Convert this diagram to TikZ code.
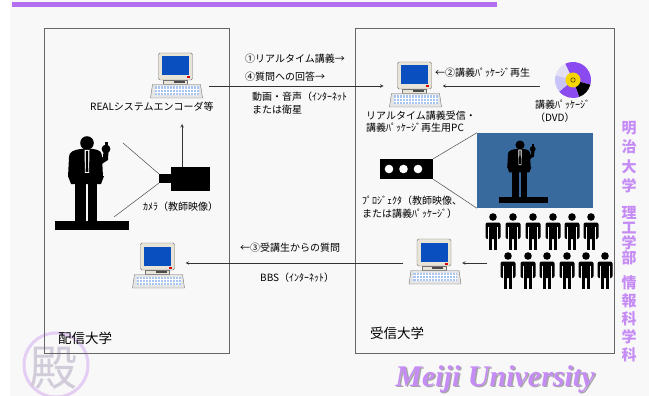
\documentclass[tikz,border=0pt]{standalone}
\usepackage{fontspec}
\setmainfont{Noto Sans CJK JP}
\newfontfamily\meijifont{Liberation Serif}

\definecolor{paper}{HTML}{F8F8F8}
\definecolor{violetbar}{HTML}{B46EF0}
\definecolor{lilac}{HTML}{C68CF5}
\definecolor{sealrim}{HTML}{E4CEF4}
\definecolor{sealgrey}{HTML}{D2CCDA}
\definecolor{casing}{HTML}{E9E4D8}
\definecolor{screenblue}{HTML}{0A4FC0}
\definecolor{keyblue}{HTML}{A8C4F0}
\definecolor{wallblue}{HTML}{386A9E}
\definecolor{discpurple}{HTML}{8A4AF0}
\definecolor{disclav}{HTML}{E4E0F4}
\definecolor{discperi}{HTML}{C8C4F8}
\definecolor{discgold}{HTML}{F6D400}

\tikzset{
    lbl/.style={font=\fontsize{10}{12.5}\selectfont, inner sep=0pt, anchor=west, align=left},
    site/.style={font=\fontsize{13.5}{16}\selectfont, inner sep=0pt, anchor=west},
    campus/.style={font=\fontsize{15}{15}\selectfont\bfseries, text=lilac, inner sep=0pt},
    link/.style={draw=black!80, line width=.6pt},
    ray/.style={draw=black!70, line width=.5pt},
    frame/.style={draw=black!60, line width=.8pt},
    solid box/.style={fill=black, inner sep=0pt},
    pc/.pic={
        \filldraw[draw=black!55, fill=casing, rounded corners=1.5pt] (-17,0) rectangle (17,27);
        \fill[screenblue] (-13.5,3.5) rectangle (13.5,22.5);
        \fill[red!85!black] (11,23.5) rectangle (14,25.5);
        \filldraw[draw=black!55, fill=casing] (-12,27) rectangle (12,31);
        \fill[black!70] (-2,28) rectangle (9,30);
        \filldraw[draw=black!55, fill=black!10] (-23,31.5) -- (25,31.5) -- (27,45) -- (-25,45) -- cycle;
        \fill[keyblue] (-21,33.5) rectangle (23,42);
        \foreach \kx in {-18,-15,...,21}
            \draw[white, line width=.35pt] (\kx,33.5) -- (\kx,42);
        \draw[white, line width=.35pt] (-21,36.3) -- (23,36.3) (-21,39.1) -- (23,39.1);
        \coordinate (-w) at (-31,24);
        \coordinate (-e) at (28,24);
    },
    speaker/.pic={
        \fill (0,0) circle[radius=6.8];
        \fill (-6,6) -- (6,6) .. controls (13,7) and (15,9) .. (15,14) -- (16,34)
            -- (-19,34) -- (-18,14) .. controls (-18,9) and (-14,7) .. (-6,6) -- cycle;
        \fill[white] (-2.5,7) -- (2.5,7) -- (2,30) -- (-2,30) -- cycle;
        \fill (-1,8) -- (1,8) -- (1.3,29) -- (-1.3,29) -- cycle;
        \fill (8,18) -- (16,14) -- (16.5,8) -- (21.5,8) -- (21,17) -- (10,24) -- cycle;
        \fill (19,6) circle[radius=4.4];
        \fill (17.5,-1) rectangle (20.5,4);
        \fill (-19,33) -- (17,33) -- (14,41) -- (-16,41) -- cycle;
        \fill (-12,41) rectangle (-1,79);
        \fill (1,41) rectangle (10,79);
        \fill (-32,78) rectangle (42,87);
    },
    person/.pic={
        \fill (0,0) circle[radius=3.8];
        \fill[rounded corners=2pt] (-7.5,5.5) rectangle (7.5,22);
        \draw[paper, line width=.8pt] (-4.3,9.5) -- (-4.3,22.5) (4.3,9.5) -- (4.3,22.5);
        \fill (-4,21) rectangle (-0.6,33);
        \fill (0.6,21) rectangle (4,33);
    },
}

\begin{document}
\begin{tikzpicture}[x=1pt, y=-1pt]
    \useasboundingbox (0,0) rectangle (649,396);
    \fill[paper] (10,0) rectangle (649,396);
    \fill[violetbar] (12,2) rectangle (497,7.5);

    \draw[sealrim, line width=3pt] (56,365) circle[radius=32];
    \node[font=\fontsize{48}{48}\selectfont, text=sealgrey, inner sep=0pt] (seal) at (53,368) {殿};

    \draw[frame] (44,28) rectangle (229,353);
    \draw[frame] (355,28) rectangle (614,353);

    \pic (encpc) at (175.5,53) {pc};
    \pic (recvpc) at (414.5,62) {pc};
    \pic (bbssend) at (157.5,243) {pc};
    \pic (bbsrecv) at (434,239) {pc};

    \node[lbl] (enclbl) at (90,107) {REALシステムエンコーダ等};
    \node[lbl] (live) at (245,59) {①リアルタイム講義→};
    \node[lbl] (answer) at (245,77) {④質問への回答→};
    \node[lbl] (media) at (252,103) {動画・音声（ｲﾝﾀｰﾈｯﾄ\\または衛星};
    \node[lbl] (replay) at (435,73) {←②講義ﾊﾟｯｹｰｼﾞ再生};
    \node[lbl] (recvlbl) at (366,121.5) {リアルタイム講義受信・\\講義ﾊﾟｯｹｰｼﾞ再生用PC};
    \node[lbl] (disclbl) at (535,111) {講義ﾊﾟｯｹｰｼﾞ\\（DVD）};
    \node[lbl] (camlbl) at (143,207) {ｶﾒﾗ（教師映像）};
    \node[lbl] (projlbl) at (362,207) {ﾌﾟﾛｼﾞｪｸﾀ（教師映像、\\または講義ﾊﾟｯｹｰｼﾞ）};
    \node[lbl] (question) at (240,248) {←③受講生からの質問};
    \node[lbl] (bbs) at (260,278) {BBS（ｲﾝﾀｰﾈｯﾄ）};
    \node[site] (sender) at (58,338) {配信大学};
    \node[site] (receiver) at (370,333) {受信大学};

    \coordinate (dvd) at (573,80);
    \fill[disclav] (dvd) -- ++(-165:18) arc[start angle=-165, end angle=-115, radius=18] -- cycle;
    \fill[discpurple] (dvd) -- ++(-115:18) arc[start angle=-115, end angle=15, radius=18] -- cycle;
    \fill[black] (dvd) -- ++(15:18) arc[start angle=15, end angle=70, radius=18] -- cycle;
    \fill[discpurple] (dvd) -- ++(70:18) arc[start angle=70, end angle=140, radius=18] -- cycle;
    \fill[discperi] (dvd) -- ++(140:18) arc[start angle=140, end angle=195, radius=18] -- cycle;
    \fill[discgold] (dvd) circle[radius=7.5];
    \draw[black!70!discgold, line width=.6pt] (dvd) circle[radius=2.2];

    \pic at (87,143) {speaker};
    \node[solid box, minimum width=39, minimum height=24] (cam) at (190.5,179) {};
    \node[solid box, minimum width=12, minimum height=9] (lens) at (165,178.5) {};

    \node[fill=wallblue, inner sep=0pt, minimum width=116, minimum height=75] (wall) at (535,170.5) {};
    \pic[scale=.67] at (520,145) {speaker};
    \node[solid box, minimum width=53, minimum height=20] (proj) at (406.5,169) {};
    \foreach \cx in {389,403.5,418}
        \fill[white] (\cx,169) circle[radius=4.3];

    \foreach \px [count=\i] in {493,513,533,553,572,591}
        \pic (front\i) at (\px,217) {person};
    \foreach \px [count=\i] in {508,528,547,567,586,605}
        \pic (back\i) at (\px,256) {person};

    \coordinate (feed) at (209,86);
    \coordinate (discfeed) at (540,86);
    \coordinate (camtop) at (182,167);
    \coordinate (encfeed) at (182,124);
    \coordinate (eyeup) at (123,143);
    \coordinate (eyedown) at (114,217);
    \coordinate (crowd) at (487,263);

    \draw[link, -stealth] (feed) -- (recvpc-w);
    \draw[link, -stealth] (discfeed) -- (recvpc-e);
    \draw[link, -stealth] (camtop) -- (encfeed);
    \draw[link, -stealth] (crowd) -- (bbsrecv-e);
    \draw[link, -stealth] (bbsrecv-w) -- (bbsrecv-w -| bbssend-e);
    \draw[ray] (eyeup) -- (lens.north west);
    \draw[ray] (eyedown) -- (lens.south west);
    \draw[ray] (proj.north east) -- (wall.north west);
    \draw[ray] (proj.south east) -- (wall.south west);

    \foreach \ch/\yy in {明/128, 治/147, 大/167, 学/186, 理/213, 工/228, 学/243, 部/258,
                         情/283, 報/301, 科/319, 学/337, 科/355}
        \node[campus] at (629,\yy) {\ch};

    \node[font=\meijifont\bfseries\itshape\fontsize{30}{30}\selectfont, text=black!35, inner sep=0pt]
        (meijishadow) at (496.5,380.5) {Meiji University};
    \node[font=\meijifont\bfseries\itshape\fontsize{30}{30}\selectfont, text=lilac, inner sep=0pt]
        (meiji) at (495,379) {Meiji University};
\end{tikzpicture}
\end{document}
